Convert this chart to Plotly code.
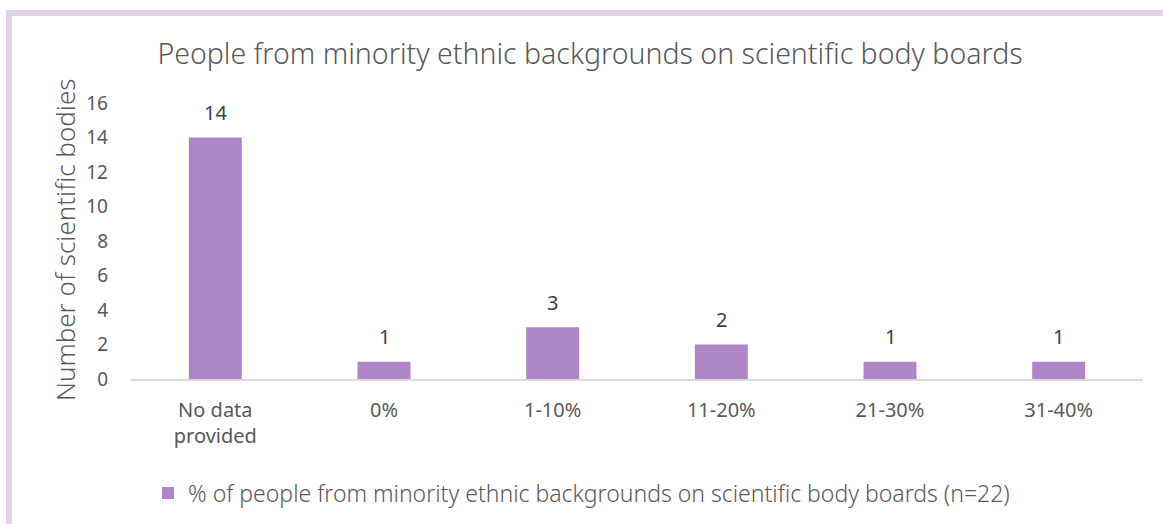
import plotly.graph_objects as go

categories = ["No data<br>provided", "0%", "1-10%", "11-20%", "21-30%", "31-40%"]
counts = [14, 1, 3, 2, 1, 1]
series_name = "% of people from minority ethnic backgrounds on scientific body boards (n=22)"
title_text = "People from minority ethnic backgrounds on scientific body boards"
y_title = "Number of scientific bodies"
y_ticks = [0, 2, 4, 6, 8, 10, 12, 14, 16]

BAR = "#ae85c6"
TXT = "#595959"
FONT = "Noto Sans"

W, H = 1163, 524
L, R, T, B = 131, 20, 103, 145
pw, ph = W - L - R, H - T - B

fig = go.Figure()
fig.add_trace(go.Bar(
    x=categories, y=counts, name=series_name,
    marker=dict(color=BAR, line=dict(width=0)),
    showlegend=True,
))

for c, v in zip(categories, counts):
    fig.add_annotation(x=c, y=v, text=str(v), showarrow=False, yshift=25,
                       yanchor="middle", font=dict(family=FONT, size=20, color="#404040"))

# y-axis title as annotation
fig.add_annotation(xref="paper", yref="paper", x=(65 - L) / pw, y=(T + ph - 240) / ph,
                   text=y_title, textangle=-90, showarrow=False,
                   xanchor="center", yanchor="middle",
                   font=dict(family=FONT, size=26, color=TXT, weight=300))

# light purple frame (top and left edges)
bc = "#e1d2ea"
fig.add_shape(type="line", xref="paper", yref="paper",
              x0=(9 - L) / pw, x1=(W + 10 - L) / pw,
              y0=(T + ph - 13) / ph, y1=(T + ph - 13) / ph,
              line=dict(color=bc, width=6))
fig.add_shape(type="line", xref="paper", yref="paper",
              x0=(9 - L) / pw, x1=(9 - L) / pw,
              y0=(T + ph - 10) / ph, y1=(T + ph - H - 10) / ph,
              line=dict(color=bc, width=6))

fig.update_layout(
    width=W, height=H,
    margin=dict(l=L, r=R, t=T, b=B, autoexpand=False),
    paper_bgcolor="white", plot_bgcolor="white",
    font=dict(family=FONT, color=TXT),
    title=dict(text=title_text, x=590 / W, xanchor="center", y=1 - 54 / H, yanchor="middle",
               xref="container", yref="container",
               font=dict(family=FONT, size=28.5, color=TXT, weight=300)),
    bargap=0.686,
    showlegend=True,
    legend=dict(orientation="h", x=(148 - L) / pw, xanchor="left",
                y=(T + ph - 493) / ph, yanchor="middle",
                font=dict(family=FONT, size=23, color=TXT, weight=300), itemwidth=30),
    xaxis=dict(showline=True, linecolor="#d9d9d9", linewidth=2, showgrid=False,
               ticks="", tickfont=dict(family=FONT, size=20, color=TXT),
               ticklabelstandoff=12),
    yaxis=dict(range=[0, 16], tickvals=y_ticks, showgrid=False, zeroline=False,
               showline=False, ticks="", tickfont=dict(family=FONT, size=19, color=TXT),
               ticklabelstandoff=22),
)

fig.write_html("out.html")
